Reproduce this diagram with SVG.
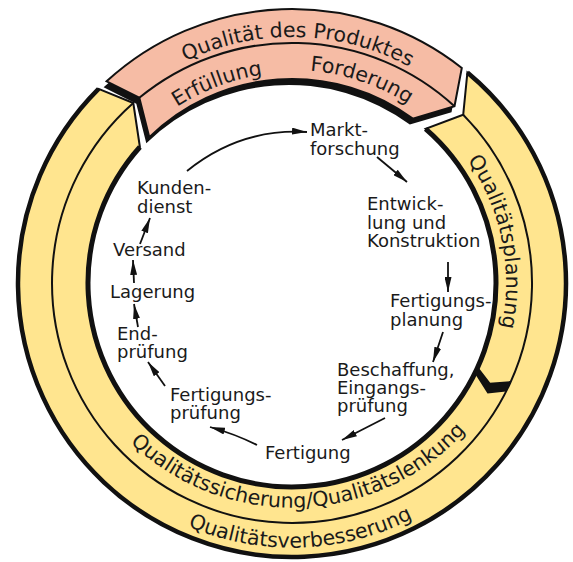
<svg xmlns="http://www.w3.org/2000/svg" width="573" height="562" viewBox="0 0 573 562">
<style>
.lbl{font-family:"DejaVu Sans",sans-serif;font-size:18px;fill:#1a1a1a}
.rt{font-family:"DejaVu Sans",sans-serif;font-size:20.5px;fill:#1a1a1a}
.edge{stroke:#111;stroke-width:2;stroke-linejoin:miter}
.ln{fill:none;stroke:#111;stroke-width:2}
.arr{fill:none;stroke:#111;stroke-width:1.8;marker-end:url(#ah)}
</style>
<defs>
<marker id="ah" viewBox="0 0 15 7" refX="15" refY="3.5" markerWidth="15" markerHeight="7" markerUnits="userSpaceOnUse" orient="auto"><path d="M0,0 L15,3.5 L0,7 Z" fill="#111"/></marker>
<path id="pink" d="M106.6,81.3 A274,274 0 0 1 461.8,68 L454.5,106.3 L412.8,118.6 A204,204 0 0 0 149.3,137.2 L139.3,97.8 Z"/>
<path id="tTop" d="M63,193.2 A246,246 0 0 1 525.2,204.5"/>
<path id="tErf" d="M80,285.2 A213,213 0 0 1 453,145"/>
<path id="tFor" d="M126.2,149.2 A213,213 0 0 1 505,278.9"/>
<path id="tPlan" d="M323.6,71.3 A214,214 0 0 1 403.8,465.5"/>
<path id="tSich" d="M59.6,299.3 A234,234 0 0 0 526,283"/>
<path id="tVerb" d="M28.6,301.4 A264,264 0 0 0 556,283"/>
</defs>
<rect width="573" height="562" fill="#fff"/>

<g id="ring-yellow">
<path class="edge" fill="#FFE58F" d="M467.4,72.5 A274,274 0 1 1 98.6,88.9 L133.3,103 L139.9,147 A204,204 0 1 0 425.6,128.8 L463.2,114.8 Z"/>
<path class="ln" d="M463.2,114.8 A240,240 0 1 1 133.3,103"/>
<path fill="none" stroke="#111" stroke-width="4.5" d="M467.4,72.5 A274,274 0 1 1 98.6,88.9"/>
<path fill="none" stroke="#111" stroke-width="5" d="M425.6,128.8 A204,204 0 1 1 139.9,147"/>
<polygon fill="#111" points="477.5,367.9 489.8,383.8 510.6,382.1 506,391.6 487.5,393.5 474.5,373"/>
<polyline class="ln" points="477.5,367.9 489.8,383.8 510.6,382.1"/>
</g>

<g id="ring-pink">
<use href="#pink" fill="#111" transform="translate(-3,6)"/>
<use href="#pink" fill="#F6BCA5" class="edge"/>
<path class="ln" d="M139.3,97.8 A240,240 0 0 1 454.5,106.3"/>
</g>

<g id="ring-texts">
<text class="rt"><textPath href="#tTop" startOffset="50%" text-anchor="middle">Qualität des Produktes</textPath></text>
<text class="rt"><textPath href="#tErf" startOffset="50%" text-anchor="middle">Erfüllung</textPath></text>
<text class="rt"><textPath href="#tFor" startOffset="50%" text-anchor="middle">Forderung</textPath></text>
<text class="rt"><textPath href="#tPlan" startOffset="50%" text-anchor="middle">Qualitätsplanung</textPath></text>
<text class="rt"><textPath href="#tSich" startOffset="50%" text-anchor="middle">Qualitätssicherung/Qualitätslenkung</textPath></text>
<text class="rt"><textPath href="#tVerb" startOffset="50%" text-anchor="middle">Qualitätsverbesserung</textPath></text>
</g>

<g id="connectors">
<path class="arr" d="M187,171 Q240,128 307,132"/>
<path class="arr" d="M377,157 L407,182"/>
<path class="arr" d="M448,262 L448,292"/>
<path class="arr" d="M443,332 L433,362"/>
<path class="arr" d="M385,418 L342,440"/>
<path class="arr" d="M257,445 Q235,434 210,427"/>
<path class="arr" d="M165,386 L148,362"/>
<path class="arr" d="M138,327 L134,304"/>
<path class="arr" d="M134,283 L133,260"/>
<path class="arr" d="M140,244 L150,218"/>
</g>

<g id="n-marktforschung"><text class="lbl" x="310" y="136">Markt-</text><text class="lbl" x="310" y="155">forschung</text></g>
<g id="n-entwicklung"><text class="lbl" x="367" y="210">Entwick-</text><text class="lbl" x="367" y="229">lung und</text><text class="lbl" x="367" y="247">Konstruktion</text></g>
<g id="n-fertigungsplanung"><text class="lbl" x="390" y="307">Fertigungs-</text><text class="lbl" x="390" y="326">planung</text></g>
<g id="n-beschaffung"><text class="lbl" x="337" y="376">Beschaffung,</text><text class="lbl" x="337" y="394">Eingangs-</text><text class="lbl" x="337" y="412">prüfung</text></g>
<g id="n-fertigung"><text class="lbl" x="265" y="459">Fertigung</text></g>
<g id="n-fertigungspruefung"><text class="lbl" x="170" y="401">Fertigungs-</text><text class="lbl" x="170" y="419">prüfung</text></g>
<g id="n-endpruefung"><text class="lbl" x="117" y="340">End-</text><text class="lbl" x="117" y="358">prüfung</text></g>
<g id="n-lagerung"><text class="lbl" x="110" y="298">Lagerung</text></g>
<g id="n-versand"><text class="lbl" x="113" y="256">Versand</text></g>
<g id="n-kundendienst"><text class="lbl" x="137" y="194">Kunden-</text><text class="lbl" x="137" y="213">dienst</text></g>
</svg>
